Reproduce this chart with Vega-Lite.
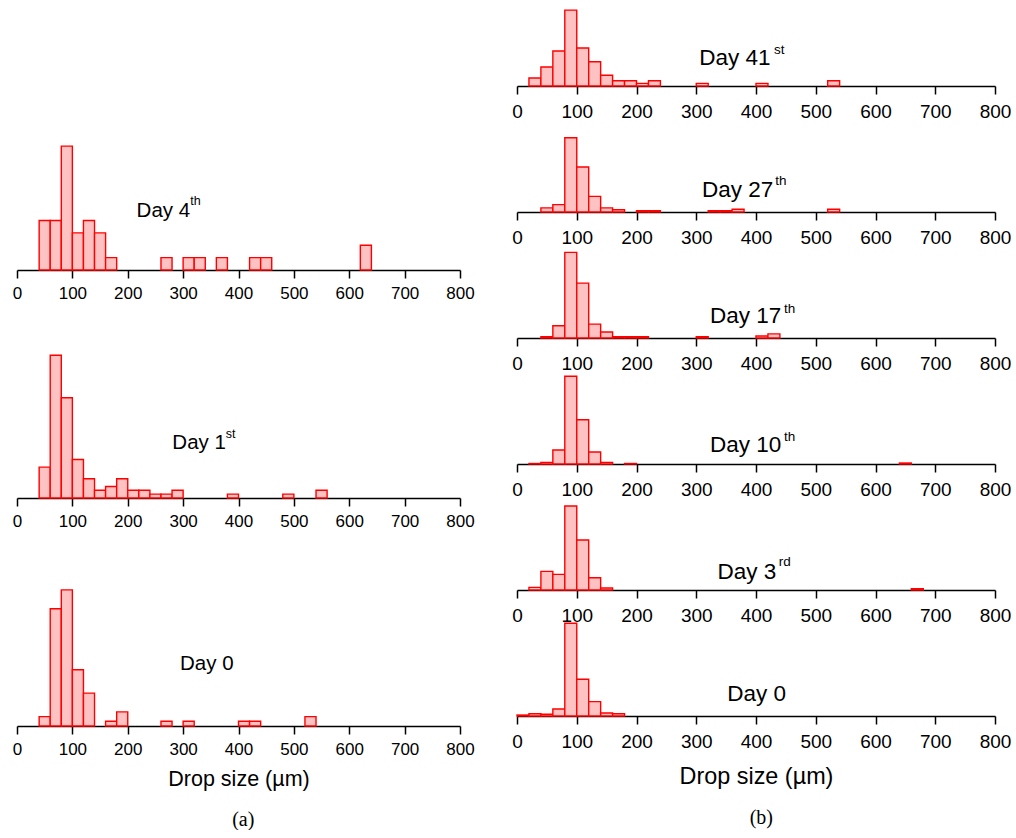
{
  "$schema": "https://vega.github.io/schema/vega-lite/v6.json",
  "background": "white",
  "padding": {"left": 12, "top": 0, "right": 0, "bottom": 0},
  "bounds": "flush",
  "spacing": 500,
  "config": {
    "view": {"stroke": null},
    "font": "Liberation Sans",
    "axis": {"domainColor": "black", "domainWidth": 1.5, "tickColor": "black", "tickWidth": 1.5, "labelColor": "black", "labelFont": "Liberation Sans", "titleFont": "Liberation Sans", "titleFontWeight": "normal", "titleColor": "black", "grid": false, "labelFlush": false, "labelOverlap": false},
    "title": {"font": "Liberation Serif", "fontWeight": "normal", "color": "black", "fontSize": 20}
  },
  "datasets": {
    "bars": [
      {"panel": "L4", "lo": 40, "hi": 60, "freq": 4}, {"panel": "L4", "lo": 60, "hi": 80, "freq": 4}, {"panel": "L4", "lo": 80, "hi": 100, "freq": 10}, {"panel": "L4", "lo": 100, "hi": 120, "freq": 3}, {"panel": "L4", "lo": 120, "hi": 140, "freq": 4}, {"panel": "L4", "lo": 140, "hi": 160, "freq": 3}, {"panel": "L4", "lo": 160, "hi": 180, "freq": 1}, {"panel": "L4", "lo": 260, "hi": 280, "freq": 1}, {"panel": "L4", "lo": 300, "hi": 320, "freq": 1}, {"panel": "L4", "lo": 320, "hi": 340, "freq": 1}, {"panel": "L4", "lo": 360, "hi": 380, "freq": 1}, {"panel": "L4", "lo": 420, "hi": 440, "freq": 1}, {"panel": "L4", "lo": 440, "hi": 460, "freq": 1}, {"panel": "L4", "lo": 620, "hi": 640, "freq": 2},
      {"panel": "L1", "lo": 40, "hi": 60, "freq": 8}, {"panel": "L1", "lo": 60, "hi": 80, "freq": 37}, {"panel": "L1", "lo": 80, "hi": 100, "freq": 26}, {"panel": "L1", "lo": 100, "hi": 120, "freq": 10}, {"panel": "L1", "lo": 120, "hi": 140, "freq": 5}, {"panel": "L1", "lo": 140, "hi": 160, "freq": 2}, {"panel": "L1", "lo": 160, "hi": 180, "freq": 3}, {"panel": "L1", "lo": 180, "hi": 200, "freq": 5}, {"panel": "L1", "lo": 200, "hi": 220, "freq": 2}, {"panel": "L1", "lo": 220, "hi": 240, "freq": 2}, {"panel": "L1", "lo": 240, "hi": 260, "freq": 1}, {"panel": "L1", "lo": 260, "hi": 280, "freq": 1}, {"panel": "L1", "lo": 280, "hi": 300, "freq": 2}, {"panel": "L1", "lo": 380, "hi": 400, "freq": 1}, {"panel": "L1", "lo": 480, "hi": 500, "freq": 1}, {"panel": "L1", "lo": 540, "hi": 560, "freq": 2},
      {"panel": "L0", "lo": 40, "hi": 60, "freq": 2}, {"panel": "L0", "lo": 60, "hi": 80, "freq": 25}, {"panel": "L0", "lo": 80, "hi": 100, "freq": 29}, {"panel": "L0", "lo": 100, "hi": 120, "freq": 12}, {"panel": "L0", "lo": 120, "hi": 140, "freq": 7}, {"panel": "L0", "lo": 160, "hi": 180, "freq": 1}, {"panel": "L0", "lo": 180, "hi": 200, "freq": 3}, {"panel": "L0", "lo": 260, "hi": 280, "freq": 1}, {"panel": "L0", "lo": 300, "hi": 320, "freq": 1}, {"panel": "L0", "lo": 400, "hi": 420, "freq": 1}, {"panel": "L0", "lo": 420, "hi": 440, "freq": 1}, {"panel": "L0", "lo": 520, "hi": 540, "freq": 2},
      {"panel": "R41", "lo": 20, "hi": 40, "freq": 3.3}, {"panel": "R41", "lo": 40, "hi": 60, "freq": 7.9}, {"panel": "R41", "lo": 60, "hi": 80, "freq": 14.6}, {"panel": "R41", "lo": 80, "hi": 100, "freq": 31.6}, {"panel": "R41", "lo": 100, "hi": 120, "freq": 15.8}, {"panel": "R41", "lo": 120, "hi": 140, "freq": 10.1}, {"panel": "R41", "lo": 140, "hi": 160, "freq": 4.5}, {"panel": "R41", "lo": 160, "hi": 180, "freq": 2.2}, {"panel": "R41", "lo": 180, "hi": 200, "freq": 2.2}, {"panel": "R41", "lo": 200, "hi": 220, "freq": 1.1}, {"panel": "R41", "lo": 220, "hi": 240, "freq": 2.2}, {"panel": "R41", "lo": 300, "hi": 320, "freq": 1.1}, {"panel": "R41", "lo": 400, "hi": 420, "freq": 1.1}, {"panel": "R41", "lo": 520, "hi": 540, "freq": 2.2},
      {"panel": "R27", "lo": 40, "hi": 60, "freq": 2.5}, {"panel": "R27", "lo": 60, "hi": 80, "freq": 4.5}, {"panel": "R27", "lo": 80, "hi": 100, "freq": 45.5}, {"panel": "R27", "lo": 100, "hi": 120, "freq": 27.6}, {"panel": "R27", "lo": 120, "hi": 140, "freq": 9.6}, {"panel": "R27", "lo": 140, "hi": 160, "freq": 2.5}, {"panel": "R27", "lo": 160, "hi": 180, "freq": 1.4}, {"panel": "R27", "lo": 200, "hi": 220, "freq": 0.8}, {"panel": "R27", "lo": 220, "hi": 240, "freq": 0.8}, {"panel": "R27", "lo": 320, "hi": 340, "freq": 0.8}, {"panel": "R27", "lo": 340, "hi": 360, "freq": 0.8}, {"panel": "R27", "lo": 360, "hi": 380, "freq": 1.7}, {"panel": "R27", "lo": 520, "hi": 540, "freq": 1.7},
      {"panel": "R17", "lo": 40, "hi": 60, "freq": 0.7}, {"panel": "R17", "lo": 60, "hi": 80, "freq": 6.6}, {"panel": "R17", "lo": 80, "hi": 100, "freq": 46.2}, {"panel": "R17", "lo": 100, "hi": 120, "freq": 29.6}, {"panel": "R17", "lo": 120, "hi": 140, "freq": 7.5}, {"panel": "R17", "lo": 140, "hi": 160, "freq": 3.2}, {"panel": "R17", "lo": 160, "hi": 180, "freq": 0.7}, {"panel": "R17", "lo": 180, "hi": 200, "freq": 0.7}, {"panel": "R17", "lo": 200, "hi": 220, "freq": 0.7}, {"panel": "R17", "lo": 300, "hi": 320, "freq": 0.7}, {"panel": "R17", "lo": 400, "hi": 420, "freq": 1.1}, {"panel": "R17", "lo": 420, "hi": 440, "freq": 2.2},
      {"panel": "R10", "lo": 20, "hi": 40, "freq": 0.3}, {"panel": "R10", "lo": 40, "hi": 60, "freq": 1.0}, {"panel": "R10", "lo": 60, "hi": 80, "freq": 8.6}, {"panel": "R10", "lo": 80, "hi": 100, "freq": 53.7}, {"panel": "R10", "lo": 100, "hi": 120, "freq": 27.1}, {"panel": "R10", "lo": 120, "hi": 140, "freq": 7.3}, {"panel": "R10", "lo": 140, "hi": 160, "freq": 1.0}, {"panel": "R10", "lo": 180, "hi": 200, "freq": 0.3}, {"panel": "R10", "lo": 640, "hi": 660, "freq": 0.6},
      {"panel": "R3", "lo": 20, "hi": 40, "freq": 1.4}, {"panel": "R3", "lo": 40, "hi": 60, "freq": 10.0}, {"panel": "R3", "lo": 60, "hi": 80, "freq": 8.4}, {"panel": "R3", "lo": 80, "hi": 100, "freq": 45.0}, {"panel": "R3", "lo": 100, "hi": 120, "freq": 26.8}, {"panel": "R3", "lo": 120, "hi": 140, "freq": 6.6}, {"panel": "R3", "lo": 140, "hi": 160, "freq": 1.1}, {"panel": "R3", "lo": 660, "hi": 680, "freq": 0.7},
      {"panel": "R0", "lo": 0, "hi": 20, "freq": 0.6}, {"panel": "R0", "lo": 20, "hi": 40, "freq": 1.4}, {"panel": "R0", "lo": 40, "hi": 60, "freq": 1.1}, {"panel": "R0", "lo": 60, "hi": 80, "freq": 4.3}, {"panel": "R0", "lo": 80, "hi": 100, "freq": 57.6}, {"panel": "R0", "lo": 100, "hi": 120, "freq": 22.8}, {"panel": "R0", "lo": 120, "hi": 140, "freq": 8.9}, {"panel": "R0", "lo": 140, "hi": 160, "freq": 1.9}, {"panel": "R0", "lo": 160, "hi": 180, "freq": 1.4}
    ],
    "labels": [
      {"panel": "L4", "kind": "main", "x": 216, "y": 4.3, "label": "Day 4"}, {"panel": "L4", "kind": "sup", "x": 313, "y": 5.24, "label": "th"},
      {"panel": "L1", "kind": "main", "x": 280.5, "y": 12.6, "label": "Day 1"}, {"panel": "L1", "kind": "sup", "x": 377, "y": 15.5, "label": "st"},
      {"panel": "L0", "kind": "main", "x": 294.4, "y": 11.9, "label": "Day 0"},
      {"panel": "R41", "kind": "main", "x": 305, "y": 8.74, "label": "Day 41"}, {"panel": "R41", "kind": "sup", "x": 430, "y": 13.3, "label": "st"},
      {"panel": "R27", "kind": "main", "x": 309.5, "y": 9.0, "label": "Day 27"}, {"panel": "R27", "kind": "sup", "x": 432.3, "y": 16.5, "label": "th"},
      {"panel": "R17", "kind": "main", "x": 323, "y": 7.9, "label": "Day 17"}, {"panel": "R17", "kind": "sup", "x": 446.9, "y": 13.7, "label": "th"},
      {"panel": "R10", "kind": "main", "x": 323, "y": 7.2, "label": "Day 10"}, {"panel": "R10", "kind": "sup", "x": 446.9, "y": 14.1, "label": "th"},
      {"panel": "R3", "kind": "main", "x": 335.5, "y": 5.7, "label": "Day 3"}, {"panel": "R3", "kind": "sup", "x": 438, "y": 12.9, "label": "rd"},
      {"panel": "R0", "kind": "main", "x": 352, "y": 9.3, "label": "Day 0"}
    ]
  },
  "hconcat": [
    {
      "bounds": "flush",
      "spacing": 60,
      "title": {"text": "(a)", "orient": "bottom", "anchor": "middle", "offset": 20},
      "vconcat": [
        {"width": 443, "height": 270, "layer": [
          {"data": {"name": "bars"}, "transform": [{"filter": "datum.panel === 'L4'"}], "mark": {"type": "bar", "fill": "#ffc2c2", "stroke": "#ff0000", "strokeWidth": 1.4},
           "encoding": {"x": {"field": "lo", "type": "quantitative", "scale": {"domain": [0, 800], "nice": false}, "axis": {"values": [0,50,100,150,200,250,300,350,400,450,500,550,600,650,700,750,800], "labelExpr": "datum.value % 100 === 0 ? datum.label : ''", "tickSize": {"condition": {"test": "datum.value % 100 === 0", "value": 8}, "value": 4}, "labelFontSize": 17, "labelPadding": 7, "title": null}}, "x2": {"field": "hi"}, "y": {"field": "freq", "type": "quantitative", "scale": {"domain": [0, 21.8], "nice": false}, "axis": null}, "y2": {"datum": 0}}},
          {"data": {"name": "labels"}, "transform": [{"filter": "datum.panel === 'L4' && datum.kind === 'main'"}], "mark": {"type": "text", "align": "left", "baseline": "alphabetic", "fontSize": 20.5, "font": "Liberation Sans", "color": "black"}, "encoding": {"x": {"field": "x", "type": "quantitative"}, "y": {"field": "y", "type": "quantitative"}, "text": {"field": "label"}}},
          {"data": {"name": "labels"}, "transform": [{"filter": "datum.panel === 'L4' && datum.kind === 'sup'"}], "mark": {"type": "text", "align": "left", "baseline": "alphabetic", "fontSize": 12.5, "font": "Liberation Sans", "color": "black"}, "encoding": {"x": {"field": "x", "type": "quantitative"}, "y": {"field": "y", "type": "quantitative"}, "text": {"field": "label"}}}
        ]},
        {"width": 443, "height": 168, "layer": [
          {"data": {"name": "bars"}, "transform": [{"filter": "datum.panel === 'L1'"}], "mark": {"type": "bar", "fill": "#ffc2c2", "stroke": "#ff0000", "strokeWidth": 1.4},
           "encoding": {"x": {"field": "lo", "type": "quantitative", "scale": {"domain": [0, 800], "nice": false}, "axis": {"values": [0,50,100,150,200,250,300,350,400,450,500,550,600,650,700,750,800], "labelExpr": "datum.value % 100 === 0 ? datum.label : ''", "tickSize": {"condition": {"test": "datum.value % 100 === 0", "value": 8}, "value": 4}, "labelFontSize": 17, "labelPadding": 7, "title": null}}, "x2": {"field": "hi"}, "y": {"field": "freq", "type": "quantitative", "scale": {"domain": [0, 43.56], "nice": false}, "axis": null}, "y2": {"datum": 0}}},
          {"data": {"name": "labels"}, "transform": [{"filter": "datum.panel === 'L1' && datum.kind === 'main'"}], "mark": {"type": "text", "align": "left", "baseline": "alphabetic", "fontSize": 20.5, "font": "Liberation Sans", "color": "black"}, "encoding": {"x": {"field": "x", "type": "quantitative"}, "y": {"field": "y", "type": "quantitative"}, "text": {"field": "label"}}},
          {"data": {"name": "labels"}, "transform": [{"filter": "datum.panel === 'L1' && datum.kind === 'sup'"}], "mark": {"type": "text", "align": "left", "baseline": "alphabetic", "fontSize": 12.5, "font": "Liberation Sans", "color": "black"}, "encoding": {"x": {"field": "x", "type": "quantitative"}, "y": {"field": "y", "type": "quantitative"}, "text": {"field": "label"}}}
        ]},
        {"width": 443, "height": 168, "layer": [
          {"data": {"name": "bars"}, "transform": [{"filter": "datum.panel === 'L0'"}], "mark": {"type": "bar", "fill": "#ffc2c2", "stroke": "#ff0000", "strokeWidth": 1.4},
           "encoding": {"x": {"field": "lo", "type": "quantitative", "scale": {"domain": [0, 800], "nice": false}, "axis": {"values": [0,50,100,150,200,250,300,350,400,450,500,550,600,650,700,750,800], "labelExpr": "datum.value % 100 === 0 ? datum.label : ''", "tickSize": {"condition": {"test": "datum.value % 100 === 0", "value": 8}, "value": 4}, "labelFontSize": 17, "labelPadding": 7, "title": "Drop size (µm)", "titleFontSize": 21.5, "titlePadding": 11}}, "x2": {"field": "hi"}, "y": {"field": "freq", "type": "quantitative", "scale": {"domain": [0, 35.8], "nice": false}, "axis": null}, "y2": {"datum": 0}}},
          {"data": {"name": "labels"}, "transform": [{"filter": "datum.panel === 'L0' && datum.kind === 'main'"}], "mark": {"type": "text", "align": "left", "baseline": "alphabetic", "fontSize": 20.5, "font": "Liberation Sans", "color": "black"}, "encoding": {"x": {"field": "x", "type": "quantitative"}, "y": {"field": "y", "type": "quantitative"}, "text": {"field": "label"}}}
        ]}
      ]
    },
    {
      "bounds": "flush",
      "spacing": 40,
      "title": {"text": "(b)", "orient": "bottom", "anchor": "middle", "offset": 20},
      "vconcat": [
        {"width": 478, "height": 86, "layer": [
          {"data": {"name": "bars"}, "transform": [{"filter": "datum.panel === 'R41'"}], "mark": {"type": "bar", "fill": "#ffc2c2", "stroke": "#ff0000", "strokeWidth": 1.4},
           "encoding": {"x": {"field": "lo", "type": "quantitative", "scale": {"domain": [0, 800], "nice": false}, "axis": {"values": [0,50,100,150,200,250,300,350,400,450,500,550,600,650,700,750,800], "labelExpr": "datum.value % 100 === 0 ? datum.label : ''", "tickSize": {"condition": {"test": "datum.value % 100 === 0", "value": 8}, "value": 4}, "labelFontSize": 19, "labelPadding": 8.5, "title": null}}, "x2": {"field": "hi"}, "y": {"field": "freq", "type": "quantitative", "scale": {"domain": [0, 35.8], "nice": false}, "axis": null}, "y2": {"datum": 0}}},
          {"data": {"name": "labels"}, "transform": [{"filter": "datum.panel === 'R41' && datum.kind === 'main'"}], "mark": {"type": "text", "align": "left", "baseline": "alphabetic", "fontSize": 22.5, "font": "Liberation Sans", "color": "black"}, "encoding": {"x": {"field": "x", "type": "quantitative"}, "y": {"field": "y", "type": "quantitative"}, "text": {"field": "label"}}},
          {"data": {"name": "labels"}, "transform": [{"filter": "datum.panel === 'R41' && datum.kind === 'sup'"}], "mark": {"type": "text", "align": "left", "baseline": "alphabetic", "fontSize": 13.5, "font": "Liberation Sans", "color": "black"}, "encoding": {"x": {"field": "x", "type": "quantitative"}, "y": {"field": "y", "type": "quantitative"}, "text": {"field": "label"}}}
        ]},
        {"width": 478, "height": 86, "layer": [
          {"data": {"name": "bars"}, "transform": [{"filter": "datum.panel === 'R27'"}], "mark": {"type": "bar", "fill": "#ffc2c2", "stroke": "#ff0000", "strokeWidth": 1.4},
           "encoding": {"x": {"field": "lo", "type": "quantitative", "scale": {"domain": [0, 800], "nice": false}, "axis": {"values": [0,50,100,150,200,250,300,350,400,450,500,550,600,650,700,750,800], "labelExpr": "datum.value % 100 === 0 ? datum.label : ''", "tickSize": {"condition": {"test": "datum.value % 100 === 0", "value": 8}, "value": 4}, "labelFontSize": 19, "labelPadding": 8.5, "title": null}}, "x2": {"field": "hi"}, "y": {"field": "freq", "type": "quantitative", "scale": {"domain": [0, 52.7], "nice": false}, "axis": null}, "y2": {"datum": 0}}},
          {"data": {"name": "labels"}, "transform": [{"filter": "datum.panel === 'R27' && datum.kind === 'main'"}], "mark": {"type": "text", "align": "left", "baseline": "alphabetic", "fontSize": 22.5, "font": "Liberation Sans", "color": "black"}, "encoding": {"x": {"field": "x", "type": "quantitative"}, "y": {"field": "y", "type": "quantitative"}, "text": {"field": "label"}}},
          {"data": {"name": "labels"}, "transform": [{"filter": "datum.panel === 'R27' && datum.kind === 'sup'"}], "mark": {"type": "text", "align": "left", "baseline": "alphabetic", "fontSize": 13.5, "font": "Liberation Sans", "color": "black"}, "encoding": {"x": {"field": "x", "type": "quantitative"}, "y": {"field": "y", "type": "quantitative"}, "text": {"field": "label"}}}
        ]},
        {"width": 478, "height": 86, "layer": [
          {"data": {"name": "bars"}, "transform": [{"filter": "datum.panel === 'R17'"}], "mark": {"type": "bar", "fill": "#ffc2c2", "stroke": "#ff0000", "strokeWidth": 1.4},
           "encoding": {"x": {"field": "lo", "type": "quantitative", "scale": {"domain": [0, 800], "nice": false}, "axis": {"values": [0,50,100,150,200,250,300,350,400,450,500,550,600,650,700,750,800], "labelExpr": "datum.value % 100 === 0 ? datum.label : ''", "tickSize": {"condition": {"test": "datum.value % 100 === 0", "value": 8}, "value": 4}, "labelFontSize": 19, "labelPadding": 8.5, "title": null}}, "x2": {"field": "hi"}, "y": {"field": "freq", "type": "quantitative", "scale": {"domain": [0, 46.4], "nice": false}, "axis": null}, "y2": {"datum": 0}}},
          {"data": {"name": "labels"}, "transform": [{"filter": "datum.panel === 'R17' && datum.kind === 'main'"}], "mark": {"type": "text", "align": "left", "baseline": "alphabetic", "fontSize": 22.5, "font": "Liberation Sans", "color": "black"}, "encoding": {"x": {"field": "x", "type": "quantitative"}, "y": {"field": "y", "type": "quantitative"}, "text": {"field": "label"}}},
          {"data": {"name": "labels"}, "transform": [{"filter": "datum.panel === 'R17' && datum.kind === 'sup'"}], "mark": {"type": "text", "align": "left", "baseline": "alphabetic", "fontSize": 13.5, "font": "Liberation Sans", "color": "black"}, "encoding": {"x": {"field": "x", "type": "quantitative"}, "y": {"field": "y", "type": "quantitative"}, "text": {"field": "label"}}}
        ]},
        {"width": 478, "height": 86, "layer": [
          {"data": {"name": "bars"}, "transform": [{"filter": "datum.panel === 'R10'"}], "mark": {"type": "bar", "fill": "#ffc2c2", "stroke": "#ff0000", "strokeWidth": 1.4},
           "encoding": {"x": {"field": "lo", "type": "quantitative", "scale": {"domain": [0, 800], "nice": false}, "axis": {"values": [0,50,100,150,200,250,300,350,400,450,500,550,600,650,700,750,800], "labelExpr": "datum.value % 100 === 0 ? datum.label : ''", "tickSize": {"condition": {"test": "datum.value % 100 === 0", "value": 8}, "value": 4}, "labelFontSize": 19, "labelPadding": 8.5, "title": null}}, "x2": {"field": "hi"}, "y": {"field": "freq", "type": "quantitative", "scale": {"domain": [0, 52.6], "nice": false}, "axis": null}, "y2": {"datum": 0}}},
          {"data": {"name": "labels"}, "transform": [{"filter": "datum.panel === 'R10' && datum.kind === 'main'"}], "mark": {"type": "text", "align": "left", "baseline": "alphabetic", "fontSize": 22.5, "font": "Liberation Sans", "color": "black"}, "encoding": {"x": {"field": "x", "type": "quantitative"}, "y": {"field": "y", "type": "quantitative"}, "text": {"field": "label"}}},
          {"data": {"name": "labels"}, "transform": [{"filter": "datum.panel === 'R10' && datum.kind === 'sup'"}], "mark": {"type": "text", "align": "left", "baseline": "alphabetic", "fontSize": 13.5, "font": "Liberation Sans", "color": "black"}, "encoding": {"x": {"field": "x", "type": "quantitative"}, "y": {"field": "y", "type": "quantitative"}, "text": {"field": "label"}}}
        ]},
        {"width": 478, "height": 86, "layer": [
          {"data": {"name": "bars"}, "transform": [{"filter": "datum.panel === 'R3'"}], "mark": {"type": "bar", "fill": "#ffc2c2", "stroke": "#ff0000", "strokeWidth": 1.4},
           "encoding": {"x": {"field": "lo", "type": "quantitative", "scale": {"domain": [0, 800], "nice": false}, "axis": {"values": [0,50,100,150,200,250,300,350,400,450,500,550,600,650,700,750,800], "labelExpr": "datum.value % 100 === 0 ? datum.label : ''", "tickSize": {"condition": {"test": "datum.value % 100 === 0", "value": 8}, "value": 4}, "labelFontSize": 19, "labelPadding": 8.5, "title": null}}, "x2": {"field": "hi"}, "y": {"field": "freq", "type": "quantitative", "scale": {"domain": [0, 46.1], "nice": false}, "axis": null}, "y2": {"datum": 0}}},
          {"data": {"name": "labels"}, "transform": [{"filter": "datum.panel === 'R3' && datum.kind === 'main'"}], "mark": {"type": "text", "align": "left", "baseline": "alphabetic", "fontSize": 22.5, "font": "Liberation Sans", "color": "black"}, "encoding": {"x": {"field": "x", "type": "quantitative"}, "y": {"field": "y", "type": "quantitative"}, "text": {"field": "label"}}},
          {"data": {"name": "labels"}, "transform": [{"filter": "datum.panel === 'R3' && datum.kind === 'sup'"}], "mark": {"type": "text", "align": "left", "baseline": "alphabetic", "fontSize": 13.5, "font": "Liberation Sans", "color": "black"}, "encoding": {"x": {"field": "x", "type": "quantitative"}, "y": {"field": "y", "type": "quantitative"}, "text": {"field": "label"}}}
        ]},
        {"width": 478, "height": 86, "layer": [
          {"data": {"name": "bars"}, "transform": [{"filter": "datum.panel === 'R0'"}], "mark": {"type": "bar", "fill": "#ffc2c2", "stroke": "#ff0000", "strokeWidth": 1.4},
           "encoding": {"x": {"field": "lo", "type": "quantitative", "scale": {"domain": [0, 800], "nice": false}, "axis": {"values": [0,50,100,150,200,250,300,350,400,450,500,550,600,650,700,750,800], "labelExpr": "datum.value % 100 === 0 ? datum.label : ''", "tickSize": {"condition": {"test": "datum.value % 100 === 0", "value": 8}, "value": 4}, "labelFontSize": 19, "labelPadding": 8.5, "title": "Drop size (µm)", "titleFontSize": 23.4, "titlePadding": 14}}, "x2": {"field": "hi"}, "y": {"field": "freq", "type": "quantitative", "scale": {"domain": [0, 53.4], "nice": false}, "axis": null}, "y2": {"datum": 0}}},
          {"data": {"name": "labels"}, "transform": [{"filter": "datum.panel === 'R0' && datum.kind === 'main'"}], "mark": {"type": "text", "align": "left", "baseline": "alphabetic", "fontSize": 22.5, "font": "Liberation Sans", "color": "black"}, "encoding": {"x": {"field": "x", "type": "quantitative"}, "y": {"field": "y", "type": "quantitative"}, "text": {"field": "label"}}}
        ]}
      ]
    }
  ]
}
